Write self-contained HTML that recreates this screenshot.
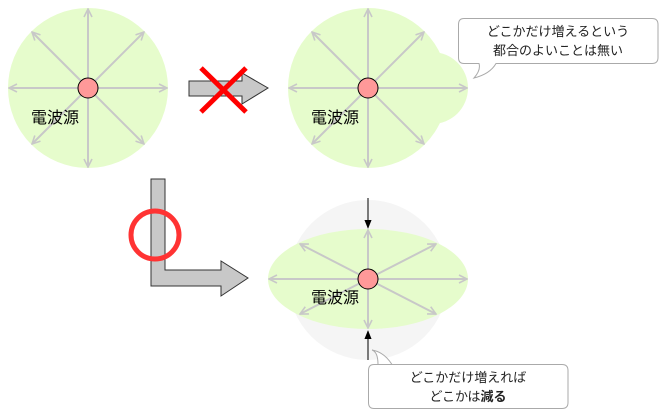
<!DOCTYPE html>
<html><head><meta charset="utf-8"><style>
html,body{margin:0;padding:0;background:#fff;width:659px;height:409px;overflow:hidden}
svg text{font-family:"Liberation Sans","Noto Sans CJK JP",sans-serif}
</style></head><body>
<svg width="659" height="409" viewBox="0 0 659 409" xmlns="http://www.w3.org/2000/svg">
<defs>
<marker id="ga" viewBox="0 0 10 10" refX="9" refY="5" markerWidth="10" markerHeight="10" markerUnits="userSpaceOnUse" orient="auto"><path d="M1,1 L9,5 L1,9" fill="none" stroke="#c8c8c8" stroke-width="1.6"/></marker>
<marker id="ba" viewBox="0 0 10 10" refX="9" refY="5" markerWidth="9" markerHeight="9" markerUnits="userSpaceOnUse" orient="auto"><path d="M0,1 L10,5 L0,9 Z" fill="#000"/></marker>
</defs>
<!-- circle 1 -->
<circle cx="88" cy="88" r="80" fill="#e6fccc"/>
<g stroke="#c8c8c8" stroke-width="2" marker-end="url(#ga)">
<line x1="88" y1="88" x2="88" y2="9"/><line x1="88" y1="88" x2="88" y2="167"/>
<line x1="88" y1="88" x2="9" y2="88"/><line x1="88" y1="88" x2="167" y2="88"/>
<line x1="88" y1="88" x2="32" y2="32"/><line x1="88" y1="88" x2="144" y2="32"/>
<line x1="88" y1="88" x2="32" y2="144"/><line x1="88" y1="88" x2="144" y2="144"/>
</g>
<circle cx="88" cy="88" r="10" fill="#ff9999" stroke="#000" stroke-width="1"/>
<text x="31" y="123" font-size="16" fill="#000">電波源</text>
<!-- arrow 1 -->
<path d="M189,81 L242,81 L242,73 L268,88 L242,104 L242,96 L189,96 Z" fill="#c8c8c8" stroke="#333" stroke-width="1"/>
<line x1="201" y1="68" x2="246" y2="112" stroke="#f00" stroke-width="5"/>
<line x1="246" y1="68" x2="201" y2="112" stroke="#f00" stroke-width="5"/>
<!-- circle 2 -->
<circle cx="368" cy="88" r="80" fill="#e6fccc"/>
<circle cx="432" cy="88" r="36" fill="#e6fccc"/>
<g stroke="#c8c8c8" stroke-width="2" marker-end="url(#ga)">
<line x1="368" y1="88" x2="368" y2="9"/><line x1="368" y1="88" x2="368" y2="167"/>
<line x1="368" y1="88" x2="289" y2="88"/><line x1="368" y1="88" x2="467" y2="88"/>
<line x1="368" y1="88" x2="312" y2="32"/><line x1="368" y1="88" x2="424" y2="32"/>
<line x1="368" y1="88" x2="312" y2="144"/><line x1="368" y1="88" x2="424" y2="144"/>
</g>
<circle cx="368" cy="88" r="10" fill="#ff9999" stroke="#000" stroke-width="1"/>
<text x="311" y="123" font-size="16" fill="#000">電波源</text>
<!-- callout top -->
<path d="M464,18.5 L652,18.5 Q658,18.5 658,24.5 L658,57.5 Q658,63.5 652,63.5 L496,63.5 Q490,74 474,78 Q481,70 479,63.5 L464,63.5 Q458.5,63.5 458.5,57.5 L458.5,24.5 Q458.5,18.5 464,18.5 Z" fill="#fff" stroke="#aaa" stroke-width="1"/>
<text x="558" y="36" font-size="13" text-anchor="middle" fill="#222">どこかだけ増えるという</text>
<text x="558" y="55" font-size="13" text-anchor="middle" fill="#222">都合のよいことは無い</text>
<!-- L arrow -->
<path d="M151,179 L165,179 L165,270 L221,270 L221,261 L248,278 L221,296 L221,286 L151,286 Z" fill="#c8c8c8" stroke="#333" stroke-width="1"/>
<circle cx="155" cy="235" r="24" fill="none" stroke="#f33" stroke-width="5"/>
<!-- bottom -->
<circle cx="368" cy="280" r="80" fill="#f5f5f5"/>
<ellipse cx="368" cy="279" rx="100" ry="50" fill="#e6fccc"/>
<g stroke="#c8c8c8" stroke-width="2" marker-end="url(#ga)">
<line x1="368" y1="279" x2="368" y2="230"/><line x1="368" y1="279" x2="368" y2="328"/>
<line x1="368" y1="279" x2="269" y2="279"/><line x1="368" y1="279" x2="467" y2="279"/>
<line x1="368" y1="279" x2="300" y2="244"/><line x1="368" y1="279" x2="436" y2="244"/>
<line x1="368" y1="279" x2="300" y2="314"/><line x1="368" y1="279" x2="436" y2="314"/>
</g>
<circle cx="368" cy="279" r="10" fill="#ff9999" stroke="#000" stroke-width="1"/>
<text x="311" y="303" font-size="16" fill="#000">電波源</text>
<line x1="368" y1="198" x2="368" y2="228" stroke="#000" stroke-width="1" marker-end="url(#ba)"/>
<line x1="368" y1="360" x2="368" y2="331" stroke="#000" stroke-width="1" marker-end="url(#ba)"/>
<!-- callout bottom -->
<path d="M374,364.5 L562,364.5 Q568,364.5 568,370.5 L568,402.5 Q568,408.5 562,408.5 L374,408.5 Q368.5,408.5 368.5,402.5 L368.5,370.5 Q368.5,364.5 374,364.5 L378,364.5 Q378,352 372,350 Q384,352 392,364.5 Z" fill="#fff" stroke="#aaa" stroke-width="1"/>
<text x="468" y="382" font-size="13" text-anchor="middle" fill="#222">どこかだけ増えれば</text>
<text x="468" y="401" font-size="13" text-anchor="middle" fill="#222">どこかは<tspan font-weight="bold">減る</tspan></text>
</svg>
</body></html>
